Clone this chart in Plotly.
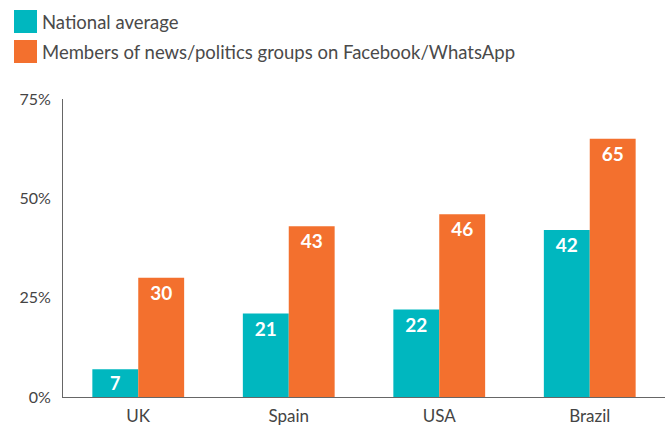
import plotly.graph_objects as go

countries = ["UK", "Spain", "USA", "Brazil"]
national_avg = [7, 21, 22, 42]
group_members = [30, 43, 46, 65]
series_names = ["National average", "Members of news/politics groups on Facebook/WhatsApp"]
y_ticks = [0, 25, 50, 75]
y_tick_labels = ["0%", "25%", "50%", "75%"]

TEAL = "#00B7BF"
ORANGE = "#F3702E"
FONT = "Lato, 'Open Sans', sans-serif"

fig = go.Figure()
for name, vals, col in [(series_names[0], national_avg, TEAL), (series_names[1], group_members, ORANGE)]:
    fig.add_trace(go.Bar(
        x=countries, y=vals, name=name, marker_color=col, marker_line_width=0,
        text=vals, texttemplate="%{text}", textposition="inside",
        insidetextanchor="end", textangle=0,
        textfont=dict(color="white", size=19, family=FONT, weight="bold"),
        showlegend=False,
    ))

# legend drawn as swatches + labels
for i, (name, col) in enumerate(zip(series_names, [TEAL, ORANGE])):
    y0 = 10 + i * 30
    fig.add_shape(type="rect", xref="paper", yref="paper",
                  x0=(14 - 63) / 602, x1=(37 - 63) / 602,
                  y0=(397 - y0) / 298, y1=(397 - y0 - 23) / 298,
                  fillcolor=col, line_width=0)
    fig.add_annotation(xref="paper", yref="paper", x=(40 - 63) / 602,
                       y=(397 - y0 - 11.5) / 298, text=name, showarrow=False,
                       xanchor="left", yanchor="middle",
                       font=dict(size=18.5, color="#4a4a4a", family=FONT))

fig.update_layout(
    width=672, height=427,
    margin=dict(l=63, r=7, t=99, b=30),
    paper_bgcolor="white", plot_bgcolor="white",
    barmode="group", bargap=0.39, bargroupgap=0,
    font=dict(family=FONT, color="#444"),
    xaxis=dict(showline=True, linecolor="#666", linewidth=1, ticks="",
               tickfont=dict(size=17, color="#444"), showgrid=False,
               ticklabelstandoff=4, automargin=False),
    yaxis=dict(range=[0, 75], tickvals=y_ticks, ticktext=y_tick_labels,
               showline=True, linecolor="#666", linewidth=1, showgrid=False,
               zeroline=False, ticks="", tickfont=dict(size=16, color="#444"),
               ticklabelstandoff=8, automargin=False),
)

fig.write_html("out.html")
